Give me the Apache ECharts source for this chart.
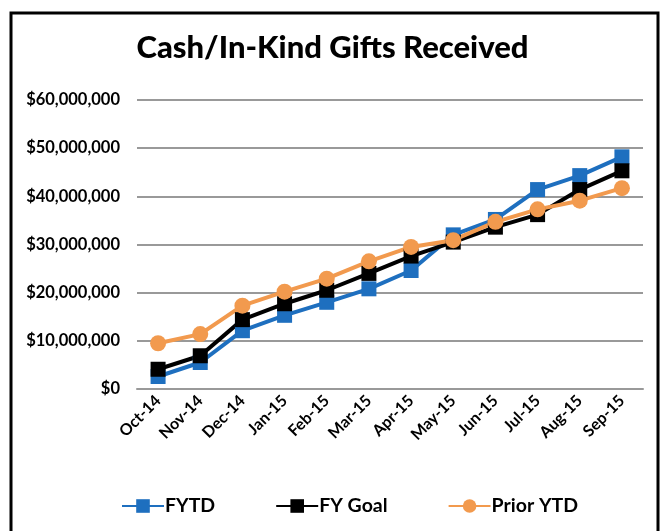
<!DOCTYPE html>
<html>
<head>
<meta charset="utf-8">
<script src="https://cdn.jsdelivr.net/npm/echarts@6/dist/echarts.min.js"></script>
<style>
  html, body { margin: 0; padding: 0; background: #fff; }
  #giftsChart { width: 665px; height: 531px; }
</style>
</head>
<body>
<div id="giftsChart"></div>
<script>
var months = ['Oct-14', 'Nov-14', 'Dec-14', 'Jan-15', 'Feb-15', 'Mar-15', 'Apr-15', 'May-15', 'Jun-15', 'Jul-15', 'Aug-15', 'Sep-15'];
var fytd = [2600000, 5500000, 12100000, 15300000, 18000000, 20800000, 24600000, 32000000, 35200000, 41400000, 44300000, 48200000];
var fyGoal = [4100000, 6900000, 14400000, 17700000, 20500000, 24000000, 27600000, 30500000, 33600000, 36200000, 41400000, 45300000];
var priorYtd = [9500000, 11400000, 17300000, 20200000, 22900000, 26500000, 29500000, 30900000, 34700000, 37300000, 39100000, 41700000];

var myChart = echarts.init(document.getElementById('giftsChart'));

function money(v) {
    return '$' + String(v).replace(/\B(?=(\d{3})+(?!\d))/g, ',');
}

var font = 'Lato, "Open Sans", sans-serif';

var option = {
    backgroundColor: '#fff',
    title: {
        text: 'Cash/In-Kind Gifts Received',
        left: 'center',
        top: 27,
        textStyle: { fontFamily: font, fontSize: 31, fontWeight: 900, color: '#000' }
    },
    graphic: [{
        type: 'rect',
        shape: { x: 11, y: 13, width: 647, height: 540 },
        style: { fill: 'none', stroke: '#000', lineWidth: 3 },
        silent: true
    }],
    legend: {
        bottom: 10,
        left: 116,
        itemGap: 60,
        itemWidth: 42,
        itemHeight: 17,
        textStyle: { fontFamily: font, fontSize: 19.5, fontWeight: 'bold', color: '#000', padding: [0, 0, 0, -4] },
        data: ['FYTD', 'FY Goal', 'Prior YTD']
    },
    grid: { left: 137, right: 22, top: 100, bottom: 142 },
    xAxis: {
        type: 'category',
        data: months,
        boundaryGap: true,
        axisLine: { lineStyle: { color: '#999', width: 2 } },
        axisTick: { show: false },
        axisLabel: {
            rotate: 45,
            margin: 9,
            fontFamily: font, fontSize: 16, fontWeight: 'bold', color: '#000'
        }
    },
    yAxis: {
        type: 'value',
        min: 0,
        max: 60000000,
        interval: 10000000,
        axisLine: { show: false },
        axisTick: { show: false },
        splitLine: { lineStyle: { color: '#999', width: 2 } },
        axisLabel: {
            margin: 17,
            formatter: money,
            fontFamily: font, fontSize: 16.5, fontWeight: 'bold', color: '#000'
        }
    },
    series: [{
        name: 'FYTD',
        type: 'line',
        data: fytd,
        symbol: 'rect',
        symbolSize: 15,
        color: '#1e6fbf',
        lineStyle: { width: 4 }
    }, {
        name: 'FY Goal',
        type: 'line',
        data: fyGoal,
        symbol: 'rect',
        symbolSize: 15,
        color: '#000',
        lineStyle: { width: 4 }
    }, {
        name: 'Prior YTD',
        type: 'line',
        data: priorYtd,
        symbol: 'circle',
        symbolSize: 16,
        color: '#f29a4e',
        lineStyle: { width: 4 }
    }]
};

myChart.setOption(option);
</script>
</body>
</html>
